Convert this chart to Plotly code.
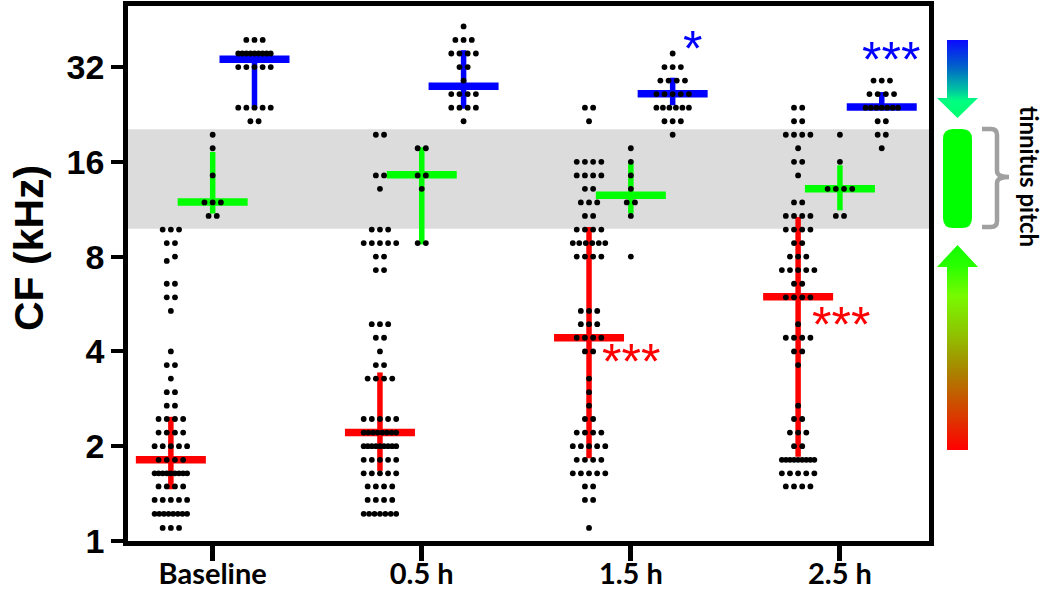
import numpy as np
import plotly.graph_objects as go

# ---------------- data (CF in kHz) ----------------
categories = ["Baseline", "0.5 h", "1.5 h", "2.5 h"]
y_tick_values = [1, 2, 4, 8, 16, 32]
y_tick_labels = ["1", "2", "4", "8", "16", "32"]
tinnitus_band_khz = [9.8, 20.3]

red_baseline = [9.75, 9.75, 9.75, 8.83, 8.83, 8.00, 7.75, 6.56, 6.56, 5.94, 5.94, 5.38,
                4.00, 3.62, 3.62, 3.28, 2.97, 2.97, 2.69, 2.69, 2.44, 2.44, 2.44, 2.44,
                2.21, 2.21, 2.21, 2.21, 2.00, 2.00, 2.00, 2.00, 2.00, 1.81, 1.81, 1.81, 1.81,
                1.64, 1.64, 1.64, 1.64, 1.64, 1.64, 1.64, 1.64, 1.64, 1.49, 1.49, 1.49, 1.49,
                1.35, 1.35, 1.35, 1.35, 1.35, 1.22, 1.22, 1.22, 1.22, 1.22, 1.22, 1.22, 1.22,
                1.10, 1.10, 1.10]
green_baseline = [19.50, 17.67, 14.49, 11.89, 11.89, 11.89, 10.77, 10.77]
blue_baseline = [39.01, 39.01, 39.01, 35.33, 35.33, 35.33, 35.33, 35.33, 35.33, 35.33, 35.33, 35.33,
                 32.00, 32.00, 32.00, 32.00, 32.00, 23.78, 23.78, 23.78, 23.78, 23.78, 21.53, 21.53]

red_05h = [19.50, 19.50, 14.49, 14.49, 13.13, 9.75, 9.75, 9.75, 8.83, 8.83, 8.83, 8.83, 8.83,
           8.00, 8.00, 7.25, 7.25, 4.88, 4.88, 4.88, 4.42, 4.42, 4.00, 3.62, 3.62,
           3.28, 3.28, 3.28, 3.28, 2.44, 2.44, 2.44, 2.44, 2.44,
           2.21, 2.21, 2.21, 2.21, 2.21, 2.21, 2.21, 2.21,
           2.00, 2.00, 2.00, 2.00, 2.00, 2.00, 2.00, 2.00, 2.00,
           1.81, 1.81, 1.81, 1.81, 1.81, 1.64, 1.64, 1.64, 1.64, 1.64,
           1.49, 1.49, 1.49, 1.49, 1.35, 1.35, 1.35, 1.35,
           1.22, 1.22, 1.22, 1.22, 1.22, 1.22, 1.22]
green_05h = [17.67, 17.67, 14.49, 14.49, 13.13, 8.83, 8.83]
blue_05h = [43.07, 39.01, 39.01, 39.01, 35.33, 35.33, 35.33, 35.33, 32.00, 32.00, 28.98,
            26.25, 26.25, 26.25, 26.25, 23.78, 23.78, 23.78, 23.78, 21.53]

red_15h = [23.78, 23.78, 21.53, 16.00, 16.00, 16.00, 16.00, 14.49, 14.49, 14.49, 14.49,
           13.13, 13.13, 11.89, 11.89, 11.89, 10.77, 10.77, 9.75, 9.75, 9.75, 9.75,
           8.83, 8.83, 8.83, 8.83, 8.83, 8.83, 8.00, 8.00, 8.00, 8.00,
           5.38, 5.38, 5.38, 4.88, 4.88, 4.88, 4.42, 4.42, 4.42, 4.42, 4.00, 4.00,
           3.28, 2.97, 2.69, 2.44, 2.44, 2.21, 2.21, 2.21, 2.21, 2.00, 2.00, 2.00, 2.00, 2.00,
           1.81, 1.81, 1.81, 1.81, 1.64, 1.64, 1.64, 1.64, 1.64, 1.49, 1.49, 1.35, 1.35, 1.10]
green_15h = [17.67, 16.00, 14.49, 13.13, 11.89, 11.89, 10.77, 8.00]
blue_15h = [35.33, 32.00, 32.00, 32.00, 28.98, 28.98, 28.98, 28.98, 26.25, 26.25, 26.25, 26.25, 26.25,
            23.78, 23.78, 23.78, 23.78, 23.78, 23.78, 21.53, 21.53, 21.53, 19.50]

red_25h = [23.78, 23.78, 21.53, 21.53, 19.50, 19.50, 19.50, 19.50, 17.67, 16.00, 16.00, 14.49,
           11.89, 11.89, 10.77, 10.77, 10.77, 10.77, 9.75, 9.75, 9.75, 9.75, 8.83, 8.83,
           8.00, 8.00, 8.00, 7.25, 7.25, 7.25, 7.25, 7.25, 6.56, 6.56, 5.94, 5.94, 5.94, 5.94,
           4.88, 4.42, 4.42, 4.42, 4.42, 4.00, 4.00, 3.62, 2.69, 2.44, 2.44, 2.21, 2.21, 2.21,
           2.00, 2.00, 1.81, 1.81, 1.81, 1.81, 1.81, 1.81, 1.81, 1.81, 1.81,
           1.64, 1.64, 1.64, 1.64, 1.64, 1.49, 1.49, 1.49, 1.49]
green_25h = [19.50, 16.00, 13.13, 13.13, 13.13, 13.13, 10.77, 10.77]
blue_25h = [28.98, 28.98, 28.98, 26.25, 26.25, 26.25, 26.25, 23.78, 23.78, 23.78, 23.78, 23.78,
            23.78, 23.78, 21.53, 21.53, 19.50, 19.50, 17.67]

# median and interquartile range
red_median = [1.81, 2.21, 4.42, 5.97]
red_q1 = [1.46, 1.67, 1.83, 1.85]
red_q3 = [2.48, 3.43, 9.93, 10.69]
green_median = [11.93, 14.57, 12.53, 13.15]
green_q1 = [10.96, 8.75, 10.96, 11.22]
green_q3 = [17.2, 17.8, 15.86, 15.6]
blue_median = [33.9, 27.8, 26.3, 23.9]
blue_q1 = [23.6, 23.6, 24.2, 23.9]
blue_q3 = [35.3, 36.2, 29.6, 26.65]

red_groups = [red_baseline, red_05h, red_15h, red_25h]
green_groups = [green_baseline, green_05h, green_15h, green_25h]
blue_groups = [blue_baseline, blue_05h, blue_15h, blue_25h]

# ---------------- layout geometry ----------------
W, H = 1050, 594
ML, MT, MB = 128, 6, 53
PLOT_RIGHT = 929
X_RANGE = [-0.405, 3.426]
Y_TOP_KHZ = 50.0
px_per_unit = (PLOT_RIGHT - ML) / (X_RANGE[1] - X_RANGE[0])
OFFSET = 0.2
COLORS = {"red": "#ff0000", "green": "#00ff00", "blue": "#0000ff"}


def swarm_x(values, center):
    v = np.asarray(values, float)
    row = np.round(np.log2(v) * 7).astype(int)
    xs = np.empty_like(v)
    for r in np.unique(row):
        idx = np.where(row == r)[0]
        idx = idx[np.argsort(v[idx], kind="stable")]
        n = len(idx)
        s = 8.2 if n < 2 else min(8.2, 32.5 / (n - 1))
        xs[idx] = center + (np.arange(n) - (n - 1) / 2) * s / px_per_unit
    return xs


fig = go.Figure()

group_specs = [
    ("red", red_groups, red_median, red_q1, red_q3, -OFFSET),
    ("green", green_groups, green_median, green_q1, green_q3, 0.0),
    ("blue", blue_groups, blue_median, blue_q1, blue_q3, OFFSET),
]

# medians + IQR bars
for name, groups, med, q1, q3, off in group_specs:
    xs = [i + off for i in range(len(categories))]
    fig.add_trace(go.Scatter(
        x=xs, y=med, mode="markers", showlegend=False, hoverinfo="skip",
        marker=dict(symbol="line-ew", size=50, color=COLORS[name],
                    line=dict(width=7.5, color=COLORS[name])),
        error_y=dict(type="data", symmetric=False,
                     array=[b - m for b, m in zip(q3, med)],
                     arrayminus=[m - a for m, a in zip(med, q1)],
                     thickness=5.5, width=0, color=COLORS[name]),
        xaxis="x", yaxis="y"))

# individual units
for name, groups, med, q1, q3, off in group_specs:
    xs_all, ys_all = [], []
    for i, vals in enumerate(groups):
        xs_all.extend(swarm_x(vals, i + off))
        ys_all.extend(vals)
    fig.add_trace(go.Scatter(
        x=xs_all, y=ys_all, mode="markers", showlegend=False,
        marker=dict(color="black", size=5.8, line=dict(width=0)),
        xaxis="x", yaxis="y"))

# ---------------- right-hand legend graphic (pixel coords on x2/y2) ----------------
upper_arrow_x = [947, 968, 968, 978, 957.5, 937, 947, 947]
upper_arrow_y = [40, 40, 98, 98, 118, 98, 98, 40]
fig.add_trace(go.Scatter(
    x=upper_arrow_x, y=upper_arrow_y, mode="lines", fill="toself",
    line=dict(width=0), showlegend=False, hoverinfo="skip",
    fillgradient=dict(type="vertical", start=40, stop=118,
                      colorscale=[[0, "rgb(10,10,255)"], [0.35, "rgb(0,100,200)"],
                                  [0.65, "rgb(0,200,160)"], [0.78, "rgb(0,255,128)"],
                                  [1, "rgb(0,255,110)"]]),
    xaxis="x2", yaxis="y2"))

lower_arrow_x = [957.5, 978, 968, 968, 947, 947, 937, 957.5]
lower_arrow_y = [245, 267, 267, 450, 450, 267, 267, 245]
fig.add_trace(go.Scatter(
    x=lower_arrow_x, y=lower_arrow_y, mode="lines", fill="toself",
    line=dict(width=0), showlegend=False, hoverinfo="skip",
    fillgradient=dict(type="vertical", start=245, stop=450,
                      colorscale=[[0, "rgb(20,255,0)"], [0.1, "rgb(40,255,0)"],
                                  [0.25, "rgb(120,250,0)"], [0.45, "rgb(145,190,0)"],
                                  [0.62, "rgb(170,130,0)"], [0.8, "rgb(210,70,0)"],
                                  [1, "rgb(255,0,0)"]]),
    xaxis="x2", yaxis="y2"))

shapes = [
    dict(type="rect", xref="x domain", yref="y", x0=0, x1=1,
         y0=tinnitus_band_khz[0], y1=tinnitus_band_khz[1],
         fillcolor="#dcdcdc", line=dict(width=0), layer="below"),
    dict(type="path", xref="x2", yref="y2",
         path="M 953,129 L 962,129 Q 972,129 972,139 L 972,218 Q 972,228 962,228 "
              "L 953,228 Q 943,228 943,218 L 943,139 Q 943,129 953,129 Z",
         fillcolor="#00ff00", line=dict(width=0)),
    dict(type="path", xref="x2", yref="y2",
         path="M 982,129 L 991,129 Q 997,129 997,135 L 997,171 Q 997,177 1009,177 "
              "Q 997,177 997,183 L 997,221 Q 997,227 991,227 L 982,227",
         line=dict(color="#a0a0a0", width=4.5)),
]

annotations = [
    dict(text="CF (kHz)", xref="paper", yref="paper", x=(29 - ML) / (W - ML),
         y=(H - MB - 248) / (H - MB - MT), xanchor="center", yanchor="middle",
         textangle=-90, showarrow=False,
         font=dict(family="Liberation Sans, Arial", size=41, weight="bold", color="black")),
    dict(text="tinnitus pitch", xref="x2", yref="y2", x=1030, y=176,
         xanchor="center", yanchor="middle", textangle=90, showarrow=False,
         font=dict(family="Lato", size=24, weight="bold", color="black")),
]

star_font = dict(family="Liberation Sans, Arial", size=50)
stars = [
    ("***", "red", 1.853, 3.86, "left"),
    ("***", "red", 2.858, 5.08, "left"),
    ("*", "blue", 2.293, 38.2, "center"),
    ("***", "blue", 3.097, 35.3, "left"),
]
for txt, col, sx, sy, anc in stars:
    annotations.append(dict(text=txt, xref="x", yref="y", x=sx, y=np.log10(sy),
                            xanchor=anc, yanchor="middle", yshift=-6, showarrow=False,
                            font=dict(star_font, color=COLORS[col])))

fig.update_layout(
    template="none",
    width=W, height=H,
    margin=dict(l=ML, r=0, t=MT, b=MB, pad=0),
    paper_bgcolor="white", plot_bgcolor="rgba(0,0,0,0)",
    showlegend=False,
    xaxis=dict(domain=[0, (PLOT_RIGHT - ML) / (W - ML)], range=X_RANGE, anchor="y",
               tickmode="array", tickvals=[0, 1, 2, 3], ticktext=categories,
               ticks="outside", ticklen=15, tickwidth=4.5, tickcolor="black",
               ticklabelstandoff=-12,
               showline=True, linewidth=4.5, linecolor="black", mirror=True,
               showgrid=False, zeroline=False, automargin=False,
               tickfont=dict(family="Lato", size=29, weight="bold", color="black")),
    yaxis=dict(type="log", range=[0, np.log10(Y_TOP_KHZ)], anchor="x", domain=[0, 1],
               tickmode="array", tickvals=y_tick_values, ticktext=y_tick_labels,
               ticks="outside", ticklen=12, tickwidth=3.5, tickcolor="black",
               showline=True, linewidth=4.5, linecolor="black", mirror=True,
               showgrid=False, zeroline=False, automargin=False,
               tickfont=dict(family="Liberation Sans, Arial", size=34, weight="bold",
                             color="black")),
    xaxis2=dict(domain=[0, 1], range=[ML, W], anchor="y2", visible=False, fixedrange=True),
    yaxis2=dict(domain=[0, 1], range=[H - MB, MT], anchor="x2", visible=False, fixedrange=True),
    shapes=shapes,
    annotations=annotations,
)

fig.write_html("out.html", config={"displayModeBar": False},
               post_script="document.body.style.margin='0';")
